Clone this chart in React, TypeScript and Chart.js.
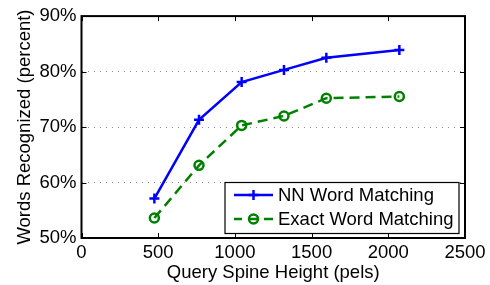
import React, { useEffect, useRef } from "react";
import { Chart, registerables } from "chart.js";

Chart.register(...registerables);

const spineHeights = [475, 766, 1044, 1320, 1596, 2072];
const nnMatching = [57.1, 71.3, 78.1, 80.3, 82.5, 83.9];
const exactMatching = [53.6, 63.1, 70.3, 72.0, 75.2, 75.5];
const xTicks = [0, 500, 1000, 1500, 2000, 2500];
const yTicks = [50, 60, 70, 80, 90];
const seriesLabels = ["NN Word Matching", "Exact Word Matching"];

const FONT = "'Liberation Sans', Arial, Helvetica, sans-serif";
const FS = 18.5;

const boxPlugin = {
  id: "matlabBox",
  afterDraw(chart: any) {
    const { ctx, chartArea } = chart;
    const { left, right, top, bottom } = chartArea;
    const xs = chart.scales.x;
    const ys = chart.scales.y;
    ctx.save();
    ctx.strokeStyle = "#000";
    ctx.lineWidth = 1;
    ctx.setLineDash([]);
    ctx.beginPath();
    const tl = 5;
    xTicks.forEach((v) => {
      const px = Math.round(xs.getPixelForValue(v)) + 0.5;
      ctx.moveTo(px, bottom);
      ctx.lineTo(px, bottom - tl);
      ctx.moveTo(px, top);
      ctx.lineTo(px, top + tl);
    });
    yTicks.forEach((v) => {
      const py = Math.round(ys.getPixelForValue(v)) + 0.5;
      ctx.moveTo(left, py);
      ctx.lineTo(left + tl, py);
      ctx.moveTo(right, py);
      ctx.lineTo(right - tl, py);
    });
    ctx.stroke();
    ctx.lineWidth = 2;
    ctx.strokeRect(left, top, right - left, bottom - top);

    // legend
    const lx = 225, ly = 182.5, lw = 234, lh = 51;
    ctx.fillStyle = "#fff";
    ctx.fillRect(lx, ly, lw, lh);
    ctx.lineWidth = 1.2;
    ctx.strokeStyle = "#000";
    ctx.strokeRect(lx, ly, lw, lh);
    const rows = [195, 219];
    chart.data.datasets.forEach((ds: any, i: number) => {
      const y = rows[i];
      ctx.strokeStyle = ds.borderColor;
      ctx.lineWidth = ds.borderWidth;
      ctx.setLineDash([]);
      ctx.beginPath();
      if (ds.borderDash && ds.borderDash.length) {
        ctx.moveTo(234, y); ctx.lineTo(242, y);
        ctx.moveTo(264, y); ctx.lineTo(273, y);
      } else {
        ctx.moveTo(234, y); ctx.lineTo(273, y);
      }
      ctx.stroke();
      ctx.lineWidth = ds.pointBorderWidth;
      ctx.beginPath();
      if (ds.pointStyle === "cross") {
        const r = ds.pointRadius;
        ctx.moveTo(253.5 - r, y); ctx.lineTo(253.5 + r, y);
        ctx.moveTo(253.5, y - r); ctx.lineTo(253.5, y + r);
        ctx.stroke();
      } else {
        ctx.arc(253.5, y, ds.pointRadius, 0, Math.PI * 2);
        ctx.stroke();
        ctx.beginPath();
        ctx.lineWidth = ds.borderWidth;
        ctx.moveTo(250, y); ctx.lineTo(257, y);
        ctx.stroke();
      }
      ctx.fillStyle = "#000";
      ctx.font = `${FS}px ${FONT}`;
      ctx.textBaseline = "middle";
      ctx.textAlign = "left";
      ctx.fillText(ds.label, 278, y + 1);
    });
    ctx.restore();
  },
};

export default function App() {
  const ref = useRef<HTMLCanvasElement>(null);
  useEffect(() => {
    document.body.style.margin = "0";
    const chart = new Chart(ref.current!, {
      type: "line",
      data: {
        datasets: [
          {
            label: seriesLabels[0],
            data: spineHeights.map((x, i) => ({ x, y: nnMatching[i] })),
            borderColor: "#0000ff",
            backgroundColor: "#0000ff",
            borderWidth: 2.5,
            pointStyle: "cross",
            pointRadius: 5,
            pointBorderWidth: 2.5,
            pointBorderColor: "#0000ff",
            fill: false,
            tension: 0,
          },
          {
            label: seriesLabels[1],
            data: spineHeights.map((x, i) => ({ x, y: exactMatching[i] })),
            borderColor: "#008000",
            backgroundColor: "rgba(0,0,0,0)",
            borderWidth: 2.5,
            borderDash: [10, 6],
            pointStyle: "circle",
            pointRadius: 4.5,
            pointBorderWidth: 2.5,
            pointBorderColor: "#008000",
            pointBackgroundColor: "rgba(0,0,0,0)",
            fill: false,
            tension: 0,
          },
        ],
      },
      options: {
        animation: false,
        responsive: false,
        maintainAspectRatio: false,
        layout: { padding: { top: 14, right: 25, left: 0, bottom: 0 } },
        plugins: { legend: { display: false }, tooltip: { enabled: false } },
        scales: {
          x: {
            type: "linear",
            min: 0,
            max: 2500,
            afterBuildTicks: (s: any) => {
              s.ticks = xTicks.map((v) => ({ value: v }));
            },
            ticks: {
              color: "#000",
              font: { family: FONT, size: FS },
              padding: 4,
              maxRotation: 0,
              callback: (v: any) => String(v),
            },
            grid: { display: false, drawTicks: false },
            border: { display: false },
            title: {
              display: true,
              text: "Query Spine Height (pels)",
              color: "#000",
              font: { family: FONT, size: FS },
              padding: { top: 0, bottom: 1 },
            },
            afterFit: (s: any) => {
              s.height = 47;
            },
          },
          y: {
            type: "linear",
            min: 50,
            max: 90,
            afterBuildTicks: (s: any) => {
              s.ticks = yTicks.map((v) => ({ value: v }));
            },
            ticks: {
              color: "#000",
              font: { family: FONT, size: FS },
              padding: 5,
              callback: (v: any) => `${v}%`,
            },
            grid: {
              drawTicks: false,
              color: (c: any) =>
                c.tick && (c.tick.value === 50 || c.tick.value === 90) ? "rgba(0,0,0,0)" : "#8c8c8c",
              lineWidth: 1,
            },
            border: { display: false, dash: [1, 5] },
            title: {
              display: true,
              text: "Words Recognized (percent)",
              color: "#000",
              font: { family: FONT, size: FS },
              padding: { top: 14, bottom: 0 },
            },
            afterFit: (s: any) => {
              s.width = 81.5;
            },
          },
        },
      },
      plugins: [boxPlugin],
    } as any);
    return () => chart.destroy();
  }, []);
  return (
    <div style={{ position: "absolute", left: 0, top: 0, width: 490, height: 285 }}>
      <canvas ref={ref} width={490} height={285} style={{ width: 490, height: 285 }} />
    </div>
  );
}
